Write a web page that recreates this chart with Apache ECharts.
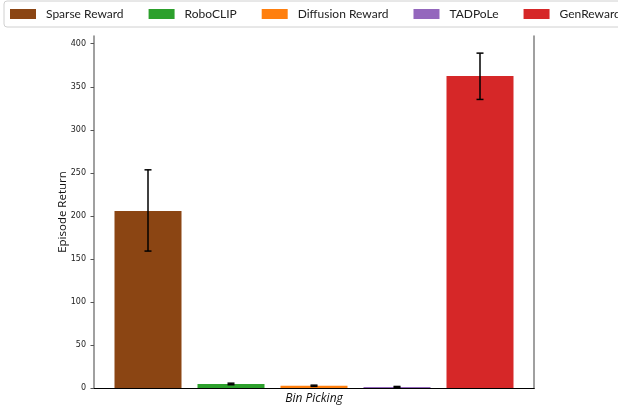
<!DOCTYPE html>
<html><head><meta charset="utf-8">
<script src="https://cdn.jsdelivr.net/npm/echarts@6/dist/echarts.min.js"></script>
<style>html,body{margin:0;padding:0;background:#fff}#c{width:618px;height:407px}</style>
</head><body><div id="c"></div>
<script>
const categories = ['Bin Picking'];
const methods = ['Sparse Reward', 'RoboCLIP', 'Diffusion Reward', 'TADPoLe', 'GenReward'];
const means = [205.6, 4.6, 2.7, 1.2, 362.4];
const errLow = [159.1, 3.8, 1.9, 0.6, 335.3];
const errHigh = [253.5, 5.6, 3.3, 1.8, 389.1];
const colors = ['#8B4513', '#2CA02C', '#FF7F0E', '#9467BD', '#D62728'];
const yTicks = [0, 50, 100, 150, 200, 250, 300, 350, 400];

const BAR_W = 67, GAP = 16;
const series = methods.map((m, i) => ({
  name: m, type: 'bar', data: [means[i]], barWidth: BAR_W, barGap: (GAP / BAR_W * 100) + '%',
  itemStyle: { color: colors[i] }, xAxisIndex: 0, yAxisIndex: 0
}));
series.push({
  type: 'custom', name: 'err', xAxisIndex: 0, yAxisIndex: 0, z: 10,
  data: methods.map((m, i) => [0, errLow[i], errHigh[i], i]),
  renderItem: function (params, api) {
    const i = api.value(3);
    const lo = api.coord([0, api.value(1)]);
    const hi = api.coord([0, api.value(2)]);
    const x = lo[0] + (i - 2) * (BAR_W + GAP);
    const cw = 3.5;
    const st = { stroke: '#000', lineWidth: 1.5 };
    return { type: 'group', children: [
      { type: 'line', shape: { x1: x, y1: lo[1], x2: x, y2: hi[1] }, style: st },
      { type: 'line', shape: { x1: x - cw, y1: lo[1], x2: x + cw, y2: lo[1] }, style: st },
      { type: 'line', shape: { x1: x - cw, y1: hi[1], x2: x + cw, y2: hi[1] }, style: st }
    ]};
  }
});

const chart = echarts.init(document.getElementById('c'), null, { renderer: 'canvas' });
chart.setOption({
  animation: false,
  legend: {
    data: methods, left: 4, top: 1, width: 900, itemWidth: 26, itemHeight: 10, itemGap: 25,
    padding: [7, 6, 7, 6],
    borderColor: '#d0d0d0', borderWidth: 1, borderRadius: 3,
    textStyle: { fontFamily: 'Lato', fontSize: 12, color: '#222', padding: [0, 0, 0, 5] },
    icon: 'rect'
  },
  grid: { left: 94, right: 84, top: 36, bottom: 19, outerBoundsMode: 'none', containLabel: false },
  xAxis: [{
    type: 'category', data: categories, position: 'bottom',
    axisLine: { lineStyle: { color: '#000', width: 1.2 } }, axisTick: { show: false }, axisLabel: { show: false },
    name: 'Bin Picking', nameLocation: 'middle', nameGap: 5,
    nameTextStyle: { fontFamily: 'Open Sans', fontStyle: 'italic', fontSize: 12, color: '#111' }
  }, {
    type: 'category', data: categories, position: 'top',
    axisLine: { show: true, lineStyle: { color: '#000', width: 1.2 } }, axisTick: { show: false }, axisLabel: { show: false }
  }],
  yAxis: [{
    type: 'value', min: 0, max: 409, interval: 50, position: 'left',
    splitLine: { show: false },
    axisLine: { show: true, lineStyle: { color: '#808080', width: 1.5 } },
    axisTick: { show: true, length: 3.5, customValues: yTicks, lineStyle: { color: '#555', width: 1 } },
    axisLabel: { customValues: yTicks, fontFamily: 'DejaVu Sans', fontSize: 8, color: '#222', margin: 8 },
    name: 'Episode Return', nameLocation: 'middle', nameGap: 25, nameRotate: 90, nameMoveOverlap: false,
    nameTextStyle: { fontFamily: 'Open Sans', fontSize: 11.5, color: '#111' }
  }, {
    type: 'value', min: 0, max: 409, position: 'right',
    splitLine: { show: false },
    axisLine: { show: true, lineStyle: { color: '#808080', width: 1.5 } },
    axisTick: { show: false }, axisLabel: { show: false }
  }],
  series: series
});
</script></body></html>
